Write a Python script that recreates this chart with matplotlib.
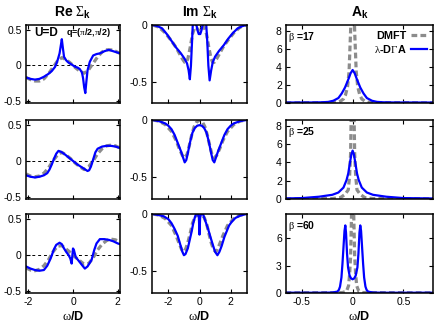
import matplotlib
matplotlib.use("Agg")
import matplotlib.pyplot as plt
from matplotlib.ticker import FormatStrFormatter

plt.rcParams['font.family'] = ['Liberation Sans', 'DejaVu Sans']
plt.rcParams['mathtext.fontset'] = 'custom'
plt.rcParams['mathtext.rm'] = 'Liberation Serif'
plt.rcParams['mathtext.it'] = 'Liberation Serif:italic'
plt.rcParams['mathtext.bf'] = 'Liberation Sans:bold'
plt.rcParams['axes.unicode_minus'] = False

# ---- Re Sigma_k (column 1) ----
re_w_dmft = [-2.1, -1.9, -1.7, -1.5, -1.3, -1.1, -0.9, -0.7, -0.5, -0.3, -0.1, 0,
             0.1, 0.3, 0.5, 0.7, 0.9, 1.1, 1.3, 1.5, 1.7, 1.9, 2.1]
re_dmft_b17 = [-0.17, -0.20, -0.22, -0.22, -0.19, -0.12, -0.03, 0.06, 0.11, 0.08, 0.03, 0,
               -0.03, -0.08, -0.11, -0.06, 0.03, 0.12, 0.19, 0.22, 0.22, 0.20, 0.17]
re_dmft_b25 = [-0.18, -0.21, -0.22, -0.21, -0.17, -0.10, 0.00, 0.08, 0.12, 0.08, 0.03, 0,
               -0.03, -0.08, -0.12, -0.08, 0.0, 0.10, 0.17, 0.21, 0.22, 0.21, 0.18]
re_dmft_b60 = [-0.18, -0.21, -0.22, -0.20, -0.15, -0.07, 0.04, 0.12, 0.13, 0.08, 0.03, 0,
               -0.03, -0.08, -0.13, -0.12, -0.04, 0.07, 0.15, 0.20, 0.22, 0.21, 0.18]

re_w_dga_b17 = [-2.1, -1.9, -1.7, -1.5, -1.3, -1.1, -0.95, -0.8, -0.7, -0.6, -0.55, -0.5,
                -0.45, -0.4, -0.3, -0.2, -0.1, 0, 0.1, 0.2, 0.3, 0.4, 0.45, 0.5,
                0.55, 0.6, 0.65, 0.75, 0.9, 1.05, 1.2, 1.4, 1.6, 1.8, 2.0, 2.1]
re_dga_b17 = [-0.17, -0.19, -0.20, -0.19, -0.16, -0.12, -0.08, -0.02, 0.06, 0.17, 0.27, 0.37,
              0.24, 0.12, 0.07, 0.04, 0.02, 0.0, -0.02, -0.03, -0.05, -0.10, -0.18, -0.31,
              -0.39, -0.22, -0.07, 0.05, 0.14, 0.16, 0.17, 0.20, 0.22, 0.20, 0.18, 0.17]
re_w_dga_b25 = [-2.1, -1.9, -1.7, -1.5, -1.3, -1.15, -1.05, -0.95, -0.85, -0.75, -0.65, -0.55,
                -0.4, -0.2, 0, 0.2, 0.4, 0.55, 0.65, 0.72, 0.8, 0.9, 1.0, 1.1, 1.3, 1.5,
                1.7, 1.9, 2.1]
re_dga_b25 = [-0.20, -0.22, -0.23, -0.22, -0.20, -0.17, -0.12, -0.05, 0.03, 0.10, 0.14, 0.13,
              0.10, 0.05, 0.0, -0.05, -0.09, -0.12, -0.14, -0.13, -0.08, 0.02, 0.12, 0.17, 0.20, 0.21,
              0.21, 0.20, 0.18]
re_w_dga_b60 = [-2.1, -1.9, -1.7, -1.5, -1.3, -1.15, -1.0, -0.85, -0.75, -0.6, -0.5, -0.4,
                -0.3, -0.2, -0.12, -0.06, 0.0, 0.04, 0.12, 0.25, 0.4, 0.53, 0.65, 0.83,
                0.95, 1.05, 1.2, 1.4, 1.6, 1.8, 2.0, 2.1]
re_dga_b60 = [-0.16, -0.19, -0.21, -0.22, -0.21, -0.15, -0.05, 0.08, 0.14, 0.17, 0.15, 0.09,
              0.04, 0.0, -0.05, -0.12, 0.09, 0.07, -0.03, -0.08, -0.14, -0.19, -0.16, -0.07,
              0.07, 0.16, 0.22, 0.22, 0.21, 0.19, 0.16, 0.15]

# ---- Im Sigma_k (column 2) ----
im_w_dmft_b17 = [-3.0, -2.6, -2.2, -1.8, -1.5, -1.3, -1.1, -0.95, -0.85, -0.75, -0.6, -0.45,
                 -0.3, -0.15, 0, 0.15, 0.3, 0.45, 0.6, 0.75, 0.85, 0.95, 1.1, 1.3, 1.5, 1.8,
                 2.2, 2.6, 3.0]
im_dmft_b17 = [0.0, -0.02, -0.07, -0.14, -0.20, -0.25, -0.30, -0.33, -0.33, -0.30, -0.20, -0.08,
               -0.02, -0.03, -0.06, -0.03, -0.02, -0.08, -0.20, -0.30, -0.33, -0.33, -0.30, -0.25,
               -0.20, -0.14, -0.07, -0.02, 0.0]
im_w_dmft_b25 = [-3.0, -2.6, -2.2, -1.8, -1.5, -1.3, -1.1, -0.95, -0.8, -0.65, -0.5, -0.35,
                 -0.2, 0, 0.2, 0.35, 0.5, 0.65, 0.8, 0.95, 1.1, 1.3, 1.5, 1.8, 2.2, 2.6, 3.0]
im_dmft_b25 = [0.0, -0.01, -0.04, -0.10, -0.18, -0.25, -0.31, -0.33, -0.30, -0.22, -0.13, -0.06,
               -0.02, 0.0, -0.02, -0.06, -0.13, -0.22, -0.30, -0.33, -0.31, -0.25, -0.18, -0.10,
               -0.04, -0.01, 0.0]
im_w_dmft_b60 = [-3.0, -2.6, -2.2, -1.8, -1.5, -1.3, -1.15, -1.05, -0.9, -0.75, -0.6, -0.45,
                 -0.3, -0.15, 0, 0.15, 0.3, 0.45, 0.6, 0.75, 0.9, 1.05, 1.15, 1.3, 1.5, 1.8,
                 2.2, 2.6, 3.0]
im_dmft_b60 = [0.0, -0.01, -0.04, -0.10, -0.19, -0.26, -0.31, -0.33, -0.31, -0.25, -0.17, -0.08,
               -0.03, -0.01, 0.0, -0.01, -0.03, -0.08, -0.17, -0.25, -0.31, -0.33, -0.31, -0.26,
               -0.19, -0.10, -0.04, -0.01, 0.0]

im_w_dga_b17 = [-3.0, -2.7, -2.4, -2.1, -1.8, -1.5, -1.2, -0.95, -0.8, -0.7, -0.62, -0.55,
                -0.48, -0.43, -0.3, -0.2, -0.12, -0.05, 0, 0.05, 0.12, 0.2, 0.3, 0.43, 0.5,
                0.57, 0.65, 0.75, 0.85, 1.0, 1.25, 1.55, 1.85, 2.15, 2.45, 2.75, 3.0]
im_dga_b17 = [0.0, -0.01, -0.03, -0.08, -0.14, -0.20, -0.25, -0.30, -0.34, -0.40, -0.48, -0.36,
              -0.15, 0.01, 0.01, 0.0, -0.05, -0.08, -0.08, -0.08, -0.05, 0.0, 0.01, 0.01, -0.15,
              -0.36, -0.49, -0.40, -0.33, -0.28, -0.23, -0.18, -0.12, -0.07, -0.03, -0.01, 0.0]
im_w_dga_b25 = [-3.0, -2.6, -2.2, -2.0, -1.8, -1.6, -1.4, -1.2, -1.05, -0.95, -0.85, -0.75,
                -0.6, -0.45, -0.3, -0.15, 0, 0.15, 0.3, 0.45, 0.6, 0.75, 0.85, 0.95, 1.05,
                1.2, 1.4, 1.6, 1.8, 2.0, 2.2, 2.6, 3.0]
im_dga_b25 = [0.0, -0.01, -0.03, -0.05, -0.08, -0.13, -0.20, -0.27, -0.33, -0.37, -0.35, -0.29,
              -0.19, -0.11, -0.07, -0.05, -0.045, -0.05, -0.07, -0.11, -0.19, -0.29, -0.35, -0.37,
              -0.33, -0.27, -0.20, -0.13, -0.08, -0.05, -0.03, -0.01, 0.0]
im_w_dga_b60 = [-3.0, -2.6, -2.3, -2.0, -1.8, -1.6, -1.4, -1.25, -1.1, -1.0, -0.9, -0.75,
                -0.6, -0.5, -0.4, -0.3, -0.22, -0.1, -0.04, 0.0, 0.04, 0.1, 0.22, 0.35, 0.55,
                0.7, 0.88, 1.0, 1.15, 1.28, 1.42, 1.6, 1.75, 1.9, 2.06, 2.3, 2.6, 3.0]
im_dga_b60 = [0.0, -0.01, -0.02, -0.045, -0.08, -0.13, -0.19, -0.26, -0.33, -0.36, -0.35, -0.30,
              -0.21, -0.15, -0.08, -0.03, 0.0, 0.0, -0.03, -0.18, -0.03, 0.0, 0.0, -0.05, -0.13,
              -0.20, -0.28, -0.33, -0.36, -0.33, -0.28, -0.20, -0.15, -0.10, -0.07, -0.035, -0.015, 0.0]

# ---- A_k (column 3) ----
a_w_dmft_b17 = [-0.66, -0.2, -0.15, -0.12, -0.09, -0.07, -0.05, -0.035, -0.02, -0.01, 0,
                0.01, 0.02, 0.035, 0.05, 0.07, 0.09, 0.12, 0.15, 0.2, 0.79]
a_dmft_b17 = [0.02, 0.05, 0.1, 0.2, 0.45, 0.9, 1.8, 3.5, 8.0, 12.0, 15.0,
              12.0, 8.0, 3.5, 1.8, 0.9, 0.45, 0.2, 0.1, 0.05, 0.02]
a_w_dmft_b25 = [-0.66, -0.2, -0.12, -0.075, -0.043, -0.03, -0.02, -0.01, 0,
                0.01, 0.02, 0.03, 0.043, 0.075, 0.12, 0.2, 0.79]
a_dmft_b25 = [0.02, 0.05, 0.15, 0.5, 1.0, 2.5, 5.0, 12.0, 20.0,
              12.0, 5.0, 2.5, 1.0, 0.5, 0.15, 0.05, 0.02]
a_w_dmft_b60 = [-0.66, -0.1, -0.06, -0.04, -0.03, -0.02, -0.01, 0,
                0.01, 0.02, 0.03, 0.04, 0.06, 0.1, 0.79]
a_dmft_b60 = [0.02, 0.05, 0.2, 0.8, 2.0, 4.0, 9.0, 25.0,
              9.0, 4.0, 2.0, 0.8, 0.2, 0.05, 0.02]

a_w_dga_b17 = [-0.66, -0.4, -0.3, -0.24, -0.19, -0.14, -0.107, -0.075, -0.043, -0.02, 0,
               0.02, 0.043, 0.075, 0.107, 0.14, 0.19, 0.24, 0.3, 0.4, 0.79]
a_dga_b17 = [0.05, 0.06, 0.08, 0.12, 0.25, 0.55, 1.06, 1.72, 2.6, 3.3, 3.66,
             3.3, 2.6, 1.72, 1.06, 0.55, 0.25, 0.12, 0.08, 0.06, 0.05]
a_w_dga_b25 = [-0.66, -0.5, -0.33, -0.2, -0.14, -0.09, -0.06, -0.043, -0.026, -0.012, 0,
               0.012, 0.026, 0.043, 0.06, 0.09, 0.14, 0.2, 0.33, 0.5, 0.79]
a_dga_b25 = [0.06, 0.1, 0.25, 0.46, 0.71, 1.25, 2.07, 2.8, 4.0, 4.9, 5.3,
             4.9, 4.0, 2.8, 2.07, 1.25, 0.71, 0.46, 0.25, 0.1, 0.06]
a_w_dga_b60 = [-0.66, -0.3, -0.2, -0.15, -0.135, -0.124, -0.11, -0.1, -0.09, -0.08,
               -0.072, -0.065, -0.055, -0.045, -0.03, -0.015, 0, 0.015, 0.03, 0.047,
               0.057, 0.067, 0.075, 0.083, 0.093, 0.103, 0.113, 0.126, 0.137, 0.152,
               0.2, 0.3, 0.79]
a_dga_b60 = [0.03, 0.03, 0.05, 0.15, 0.35, 0.7, 1.7, 3.2, 5.0, 6.8,
             7.4, 6.6, 4.3, 2.8, 1.9, 1.6, 1.5, 1.6, 1.9, 2.8,
             4.3, 6.6, 7.4, 6.8, 5.0, 3.2, 1.7, 0.7, 0.35, 0.15,
             0.05, 0.03, 0.03]

betas = [17, 25, 60]
re_dmft = [re_dmft_b17, re_dmft_b25, re_dmft_b60]
re_dga = [(re_w_dga_b17, re_dga_b17), (re_w_dga_b25, re_dga_b25), (re_w_dga_b60, re_dga_b60)]
im_dmft = [(im_w_dmft_b17, im_dmft_b17), (im_w_dmft_b25, im_dmft_b25), (im_w_dmft_b60, im_dmft_b60)]
im_dga = [(im_w_dga_b17, im_dga_b17), (im_w_dga_b25, im_dga_b25), (im_w_dga_b60, im_dga_b60)]
a_dmft = [(a_w_dmft_b17, a_dmft_b17), (a_w_dmft_b25, a_dmft_b25), (a_w_dmft_b60, a_dmft_b60)]
a_dga = [(a_w_dga_b17, a_dga_b17), (a_w_dga_b25, a_dga_b25), (a_w_dga_b60, a_dga_b60)]

gray = '#8c8c8c'
blue = '#0000ff'
dmft_kw = dict(color=gray, lw=2.3, ls=(0, (1.8, 1.0)))
dga_kw = dict(color=blue, lw=1.6)

W, H = 436, 325
fig = plt.figure(figsize=(W / 100, H / 100), dpi=100)
cols = [(26, 94), (152, 95), (286, 147)]
rows = [(25, 78), (120, 79), (214, 79)]


def make_ax(c, r):
    x, w = cols[c]
    y, h = rows[r]
    ax = fig.add_axes([x / W, 1 - (y + h) / H, w / W, h / H])
    ax.tick_params(direction='in', top=True, right=True, length=3, width=0.8,
                   labelsize=7.5, pad=3)
    for s in ax.spines.values():
        s.set_linewidth(1.1)
    ax.xaxis.set_major_formatter(FormatStrFormatter('%g'))
    ax.yaxis.set_major_formatter(FormatStrFormatter('%g'))
    return ax


for r in range(3):
    # Re Sigma
    ax = make_ax(0, r)
    ax.axhline(0, color='black', lw=0.7, ls=(0, (3, 3)))
    ax.plot(re_w_dmft, re_dmft[r], **dmft_kw)
    ax.plot(*re_dga[r], **dga_kw)
    ax.set_xlim(-2.1, 2.1)
    ax.set_ylim(-0.53, 0.57)
    ax.set_xticks([-2, 0, 2])
    ax.set_yticks([-0.5, 0, 0.5])
    if r == 0:
        ax.set_title(r'Re $\Sigma_{\mathbf{k}}$', fontsize=10, fontweight='bold', pad=6)
        ax.text(0.09, 0.9, 'U=D', transform=ax.transAxes, fontsize=8.5,
                fontweight='bold', va='center')
        ax.text(0.43, 0.9, r'q=($\mathrm{\pi}$/2,$\mathrm{\pi}$/2)', transform=ax.transAxes,
                fontsize=6.5, fontweight='bold', va='center')
    if r < 2:
        ax.set_xticklabels([])
    else:
        ax.set_xlabel(r'$\mathrm{\omega}$/D', fontsize=9, fontweight='bold', labelpad=2)

    # Im Sigma
    ax = make_ax(1, r)
    ax.plot(*im_dmft[r], **dmft_kw)
    ax.plot(*im_dga[r], **dga_kw)
    ax.set_xlim(-3.05, 3.05)
    ax.set_ylim(-0.69, 0.0)
    ax.set_xticks([-2, 0, 2])
    ax.set_yticks([-0.5, 0])
    if r == 0:
        ax.set_title(r'Im $\Sigma_{\mathbf{k}}$', fontsize=10, fontweight='bold', pad=6)
    if r < 2:
        ax.set_xticklabels([])
    else:
        ax.set_xlabel(r'$\mathrm{\omega}$/D', fontsize=9, fontweight='bold', labelpad=2)

    # A_k
    ax = make_ax(2, r)
    l1, = ax.plot(*a_dmft[r], **dmft_kw, label='DMFT')
    l2, = ax.plot(*a_dga[r], **dga_kw, label=r'$\mathrm{\lambda}$-D$\Gamma$A')
    ax.set_xlim(-0.655, 0.79)
    ax.set_ylim(0, 8.65)
    ax.set_xticks([-0.5, 0, 0.5])
    ax.set_yticks([0, 3, 6] if r == 2 else [0, 2, 4, 6, 8])
    ax.text(0.015, 0.85, r'$\mathrm{\beta}$ =%d' % betas[r], transform=ax.transAxes,
            fontsize=7.5, fontweight='bold', va='center')
    if r == 0:
        ax.set_title(r'A$_{\mathbf{k}}$', fontsize=10, fontweight='bold', pad=6)
        ax.legend(handles=[l1, l2], loc='upper right', frameon=False, markerfirst=False,
                  prop={'weight': 'bold', 'size': 7.8}, handlelength=1.5,
                  handletextpad=0.4, labelspacing=0.15, borderaxespad=0.15,
                  bbox_to_anchor=(1.0, 1.0))
    if r < 2:
        ax.set_xticklabels([])
    else:
        ax.set_xlabel(r'$\mathrm{\omega}$/D', fontsize=9, fontweight='bold', labelpad=2)

fig.savefig('out.png', dpi=100)
